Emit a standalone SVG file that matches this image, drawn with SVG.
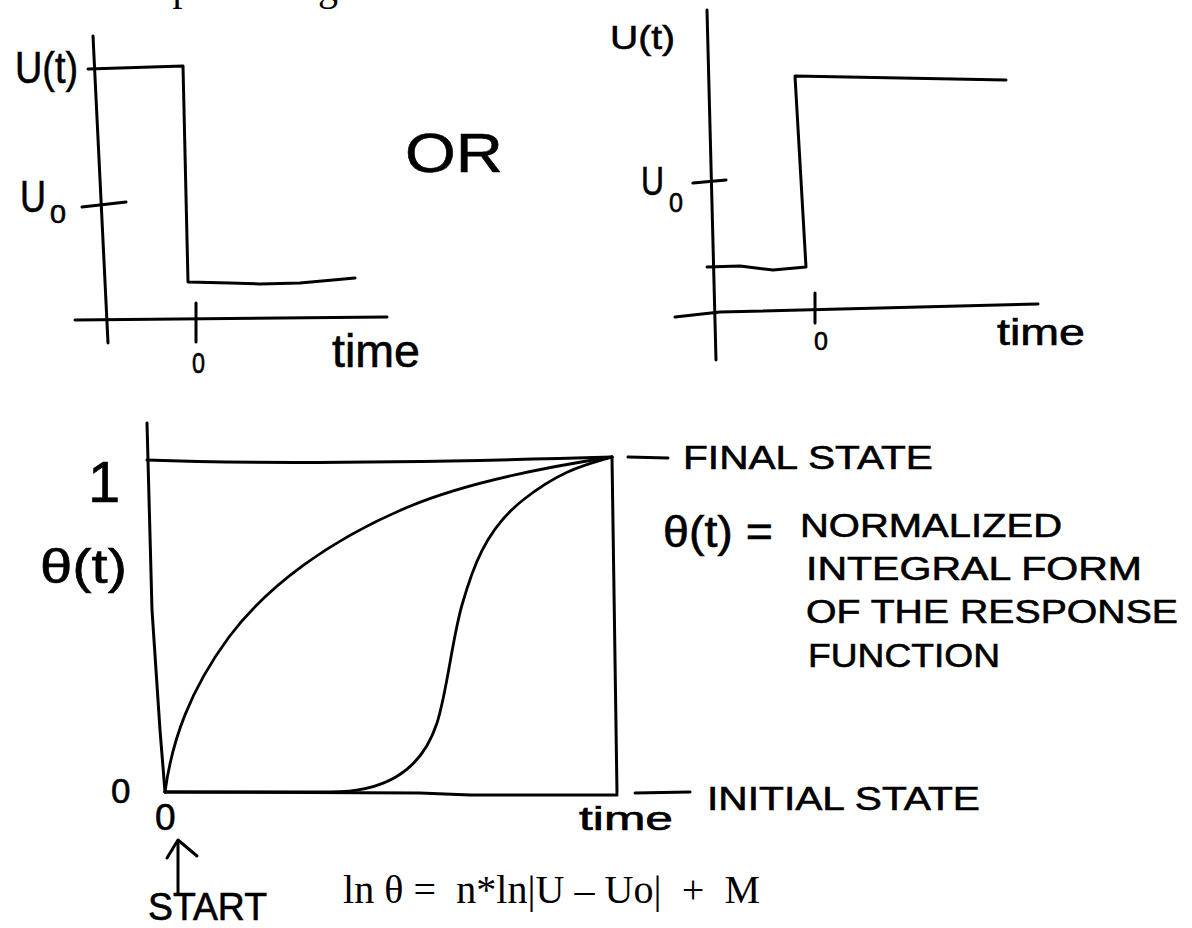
<svg xmlns="http://www.w3.org/2000/svg" width="1192" height="928" viewBox="0 0 1192 928">
<style>
.ln{fill:none;stroke:#000;stroke-width:3;stroke-linecap:round;stroke-linejoin:round}
.cv{fill:none;stroke:#000;stroke-width:2.8;stroke-linecap:round;stroke-linejoin:round}
.hw{font-family:"Liberation Sans","DejaVu Sans",sans-serif;fill:#000;stroke:#000;stroke-width:0.6}
.pr{font-family:"Liberation Serif","DejaVu Serif",serif;fill:#000}
</style>
<rect x="0" y="0" width="1192" height="928" fill="#fff"/>
<text class="pr" x="157" y="0" font-size="40">specific significance</text>

<g id="chart-step-down">
<path class="ln" d="M93,36 L108,343"/>
<path class="ln" d="M88,69 L183,66 L188,282 L230,283 L260,284 L300,283 L355,278"/>
<path class="ln" d="M82,207 L126,202"/>
<path class="ln" d="M75,320 L387,317"/>
<path class="ln" d="M196,303 L196,342"/>
<text class="hw" x="15" y="83" font-size="44" textLength="63" lengthAdjust="spacingAndGlyphs">U(t)</text>
<text class="hw" x="20" y="212" font-size="44" textLength="26" lengthAdjust="spacingAndGlyphs">U</text>
<text class="hw" x="50" y="223" font-size="25" textLength="16" lengthAdjust="spacingAndGlyphs">0</text>
<text class="hw" x="192" y="373" font-size="30" textLength="13" lengthAdjust="spacingAndGlyphs">0</text>
<text class="hw" x="332" y="367" font-size="46" textLength="88" lengthAdjust="spacingAndGlyphs">time</text>
</g>

<g id="label-or">
<text class="hw" x="405" y="172" font-size="56" stroke-width="2" textLength="98" lengthAdjust="spacingAndGlyphs">OR</text>
</g>

<g id="chart-step-up">
<path class="ln" d="M707,10 L716,360"/>
<path class="ln" d="M707,267 L740,266 L773,270 L806,267 L795,76 L1006,80"/>
<path class="ln" d="M693,183 L726,180"/>
<path class="ln" d="M675,317 L720,312 L1038,304"/>
<path class="ln" d="M815,293 L815,323"/>
<text class="hw" x="610" y="49" font-size="34" textLength="65" lengthAdjust="spacingAndGlyphs">U(t)</text>
<text class="hw" x="641" y="195" font-size="40" textLength="23" lengthAdjust="spacingAndGlyphs">U</text>
<text class="hw" x="669" y="212" font-size="28" textLength="14" lengthAdjust="spacingAndGlyphs">0</text>
<text class="hw" x="814" y="350" font-size="25">0</text>
<text class="hw" x="997" y="345" font-size="37" textLength="88" lengthAdjust="spacingAndGlyphs">time</text>
</g>

<g id="chart-response">
<path class="ln" d="M147,423 L152,610 L160,730 L165,792"/>
<path class="ln" d="M147,460 Q300,466 612,457"/>
<path class="ln" d="M612,457 L617,793"/>
<path class="ln" d="M165,792 L420,793 L470,795 L617,795"/>
<path class="cv" d="M165,792 C172,740 190,690 229,637 C268,585 330,540 408,507 C460,485 540,468 612,457"/>
<path class="cv" d="M165,792 L330,792 C380,792 420,775 437,723 C447,692 452,640 462,605 C472,570 485,530 523,500 C561,470 585,465 612,457"/>
<text class="hw" x="88" y="502" font-size="58">1</text>
<text class="hw" x="40" y="583" font-size="48" textLength="87" lengthAdjust="spacingAndGlyphs">θ(t)</text>
<text class="hw" x="111" y="803" font-size="35">0</text>
<text class="hw" x="155" y="830" font-size="37">0</text>
<text class="hw" x="579" y="830" font-size="33" stroke-width="1" textLength="94" lengthAdjust="spacingAndGlyphs">time</text>
</g>

<g id="label-final-state">
<path class="ln" d="M628,457 L668,458"/>
<text class="hw" x="683" y="469" font-size="34" textLength="250" lengthAdjust="spacingAndGlyphs">FINAL STATE</text>
</g>

<g id="label-initial-state">
<path class="ln" d="M635,793 L690,792"/>
<text class="hw" x="707" y="810" font-size="33" textLength="273" lengthAdjust="spacingAndGlyphs">INITIAL STATE</text>
</g>

<g id="label-definition">
<text class="hw" x="663" y="547" font-size="44" textLength="110" lengthAdjust="spacingAndGlyphs">θ(t) =</text>
<text class="hw" x="800" y="537" font-size="33" textLength="262" lengthAdjust="spacingAndGlyphs">NORMALIZED</text>
<text class="hw" x="806" y="580" font-size="33" textLength="336" lengthAdjust="spacingAndGlyphs">INTEGRAL FORM</text>
<text class="hw" x="806" y="623" font-size="33" textLength="372" lengthAdjust="spacingAndGlyphs">OF THE RESPONSE</text>
<text class="hw" x="808" y="667" font-size="33" textLength="192" lengthAdjust="spacingAndGlyphs">FUNCTION</text>
</g>

<g id="label-start">
<path class="ln" d="M178,893 L178,842"/>
<path class="ln" d="M167,858 L178,840 L197,856"/>
<text class="hw" x="148" y="920" font-size="38" textLength="119" lengthAdjust="spacingAndGlyphs">START</text>
</g>

<g id="formula">
<text class="pr" x="343" y="903" font-size="40" xml:space="preserve" textLength="417">ln θ =  n*ln|U – Uo|  +  M</text>
</g>
</svg>
